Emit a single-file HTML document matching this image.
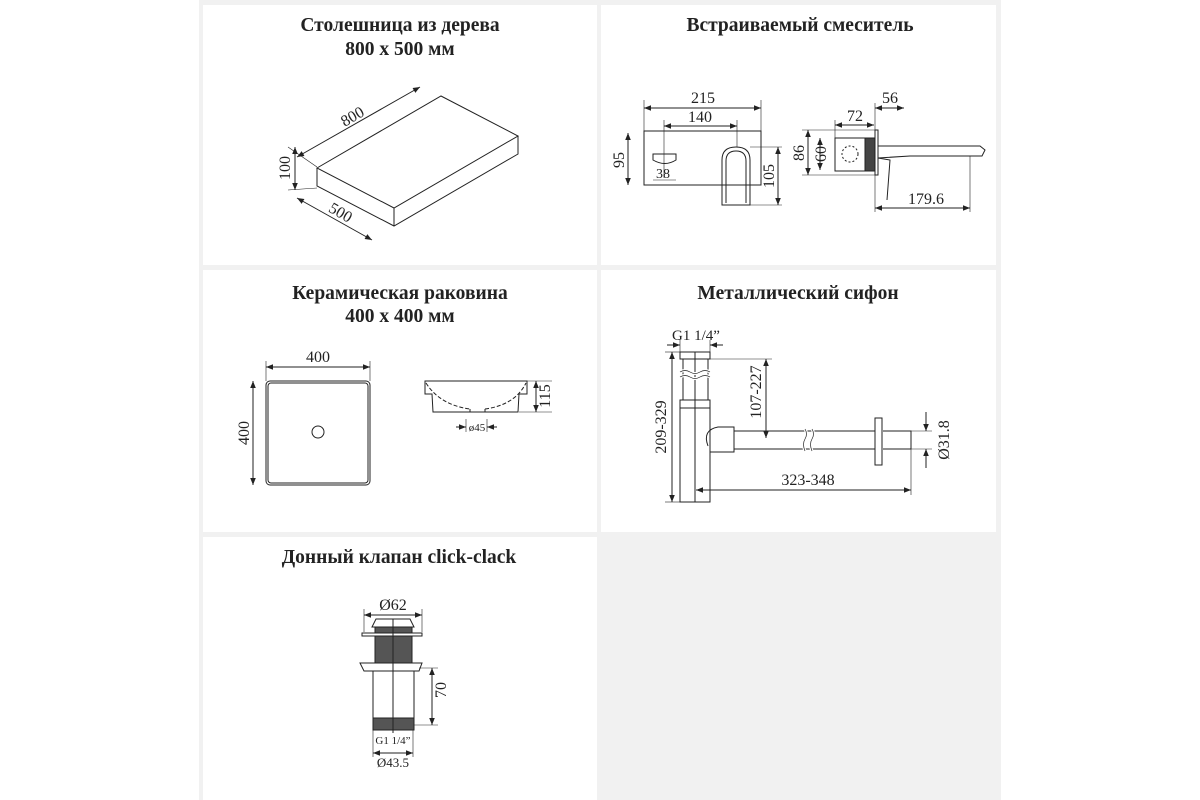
<!DOCTYPE html>
<html><head><meta charset="utf-8"><style>
html,body{margin:0;padding:0;background:#fff}
svg{display:block}
text{font-family:"Liberation Serif","DejaVu Serif",serif;fill:#222}
.t{font-weight:bold;font-size:19.5px;text-anchor:middle}
.d{font-size:16px;text-anchor:middle}
</style></head><body>
<svg width="1200" height="800" viewBox="0 0 1200 800" xmlns="http://www.w3.org/2000/svg">
<defs>
<marker id="a" viewBox="0 0 10 10" refX="10" refY="5" markerWidth="7" markerHeight="7" orient="auto-start-reverse"><path d="M0,1 L10,5 L0,9 z" fill="#222"/></marker>
</defs>
<rect x="199" y="0" width="802" height="800" fill="#f1f1f1"/>
<rect x="203" y="5" width="394" height="260" fill="#fff"/>
<rect x="601" y="5" width="395" height="260" fill="#fff"/>
<rect x="203" y="270" width="394" height="262" fill="#fff"/>
<rect x="601" y="270" width="395" height="262" fill="#fff"/>
<rect x="203" y="537" width="394" height="263" fill="#fff"/>

<g stroke="#222" fill="none" stroke-width="1">
<path d="M317,168 L441,96 L518,136 L394,208 Z"/>
<path d="M317,168 L317,186 L394,226 L518,154 L518,136"/>
<path d="M394,208 L394,226"/>
<line x1="297" y1="157" x2="420" y2="87" marker-start="url(#a)" marker-end="url(#a)"/>
<line x1="295" y1="147" x2="295" y2="190" marker-start="url(#a)" marker-end="url(#a)"/>
<line x1="297" y1="198" x2="372" y2="240" marker-start="url(#a)" marker-end="url(#a)"/>
<line x1="288" y1="147" x2="317" y2="167" stroke-width=".6"/>
<line x1="288" y1="190" x2="317" y2="188" stroke-width=".6"/>

<rect x="644" y="131" width="117" height="54"/>
<line x1="644" y1="108" x2="761" y2="108" marker-start="url(#a)" marker-end="url(#a)"/>
<line x1="644" y1="100" x2="644" y2="131" stroke-width=".6"/>
<line x1="761" y1="100" x2="761" y2="131" stroke-width=".6"/>
<line x1="664" y1="126" x2="737" y2="126" marker-start="url(#a)" marker-end="url(#a)"/>
<line x1="664" y1="120" x2="664" y2="178" stroke-width=".6"/>
<line x1="737" y1="120" x2="737" y2="147" stroke-width=".6"/>
<line x1="628" y1="133" x2="628" y2="185" marker-start="url(#a)" marker-end="url(#a)"/>
<path d="M722,205 L722,160 Q722,147 736,147 Q750,147 750,160 L750,205 Z"/>
<path d="M726,203 L726,161 Q726,151 736,151 Q746,151 746,161 L746,203"/>
<line x1="778" y1="147" x2="778" y2="205" marker-start="url(#a)" marker-end="url(#a)"/>
<line x1="750" y1="147" x2="782" y2="147" stroke-width=".6"/>
<line x1="750" y1="205" x2="782" y2="205" stroke-width=".6"/>
<path d="M653,154 L676,154 L676,160 Q665,167 653,160 Z"/>
<line x1="653" y1="180" x2="676" y2="180" stroke-width=".6"/>
<rect x="835" y="138" width="30" height="33"/>
<rect x="865" y="138" width="10" height="33" fill="#444"/>
<circle cx="850" cy="154" r="8" stroke-dasharray="2 2"/>
<rect x="875" y="130" width="3" height="45"/>
<path d="M878,146 L980,146 L985,150 L982,156 L910,156 L878,158"/>
<path d="M878,158 L890,160 L887,200"/>
<line x1="808" y1="130" x2="808" y2="175" marker-start="url(#a)" marker-end="url(#a)"/>
<line x1="820" y1="138" x2="820" y2="170" marker-start="url(#a)" marker-end="url(#a)"/>
<line x1="835" y1="125" x2="874" y2="125" marker-start="url(#a)" marker-end="url(#a)"/>
<line x1="875" y1="108" x2="904" y2="108" marker-start="url(#a)" marker-end="url(#a)"/>
<line x1="875" y1="208" x2="970" y2="208" marker-start="url(#a)" marker-end="url(#a)"/>
<line x1="835" y1="120" x2="835" y2="138" stroke-width=".6"/>
<line x1="875" y1="103" x2="875" y2="212" stroke-width=".6"/>
<line x1="970" y1="156" x2="970" y2="212" stroke-width=".6"/>
<line x1="802" y1="130" x2="875" y2="130" stroke-width=".6"/>
<line x1="802" y1="175" x2="875" y2="175" stroke-width=".6"/>

<rect x="266" y="381" width="104" height="104" rx="4"/>
<rect x="268" y="383" width="100" height="100" rx="3"/>
<circle cx="318" cy="432" r="6"/>
<line x1="266" y1="367" x2="370" y2="367" marker-start="url(#a)" marker-end="url(#a)"/>
<line x1="266" y1="361" x2="266" y2="381" stroke-width=".6"/>
<line x1="370" y1="361" x2="370" y2="381" stroke-width=".6"/>
<line x1="253" y1="381" x2="253" y2="485" marker-start="url(#a)" marker-end="url(#a)"/>
<path d="M425,381 L527,381 L527,394 L519,394 L518,412 L433,412 L432,394 L425,394 Z"/>
<path d="M426,383 Q440,405 470,409 M485,409 Q515,405 526,383" stroke-dasharray="4 2"/>
<path d="M470,409 L470,412 M485,409 L485,412"/>
<line x1="536" y1="381" x2="536" y2="412" marker-start="url(#a)" marker-end="url(#a)"/>
<line x1="527" y1="381" x2="552" y2="381" stroke-width=".6"/>
<line x1="519" y1="412" x2="552" y2="412" stroke-width=".6"/>
<line x1="456" y1="427" x2="466" y2="427" marker-end="url(#a)"/>
<line x1="497" y1="427" x2="487" y2="427" marker-end="url(#a)"/>
<line x1="466" y1="419" x2="466" y2="432" stroke-width=".6"/>
<line x1="487" y1="419" x2="487" y2="432" stroke-width=".6"/>

<rect x="680" y="352" width="30" height="7"/>
<path d="M683,359 L683,400 M708,359 L708,400 M695,352 L695,502"/>
<path d="M680,372 q5,-3 10,0 t10,0 t10,0 M680,377 q5,-3 10,0 t10,0 t10,0" stroke="#fff" stroke-width="3"/>
<path d="M680,372 q5,-3 10,0 t10,0 t10,0 M680,377 q5,-3 10,0 t10,0 t10,0" stroke-width=".7"/>
<rect x="680" y="400" width="30" height="8"/>
<rect x="680" y="408" width="30" height="94"/>
<path d="M708,446 Q702,430 718,427 L734,427 L734,452 L710,452"/>
<path d="M734,431 L875,431 M734,449 L875,449 M883,431 L911,431 L911,449 L883,449"/>
<path d="M805,429 q3,5 0,10 t0,12 M812,429 q3,5 0,10 t0,12" stroke="#fff" stroke-width="3"/>
<path d="M805,429 q3,5 0,10 t0,12 M812,429 q3,5 0,10 t0,12" stroke-width=".7"/>
<rect x="875" y="418" width="7" height="47"/>
<line x1="672" y1="352" x2="672" y2="502" marker-start="url(#a)" marker-end="url(#a)"/>
<line x1="665" y1="352" x2="680" y2="352" stroke-width=".6"/>
<line x1="665" y1="502" x2="680" y2="502" stroke-width=".6"/>
<line x1="766" y1="359" x2="766" y2="438" marker-start="url(#a)" marker-end="url(#a)"/>
<line x1="710" y1="359" x2="772" y2="359" stroke-width=".6"/>
<line x1="696" y1="490" x2="911" y2="490" marker-start="url(#a)" marker-end="url(#a)"/>
<line x1="911" y1="449" x2="911" y2="495" stroke-width=".6"/>
<line x1="926" y1="412" x2="926" y2="431" marker-end="url(#a)"/>
<line x1="926" y1="468" x2="926" y2="449" marker-end="url(#a)"/>
<line x1="911" y1="431" x2="932" y2="431" stroke-width=".6"/>
<line x1="911" y1="449" x2="932" y2="449" stroke-width=".6"/>
<line x1="667" y1="345" x2="680" y2="345" marker-end="url(#a)"/>
<line x1="723" y1="345" x2="710" y2="345" marker-end="url(#a)"/>
<line x1="680" y1="340" x2="680" y2="352" stroke-width=".6"/>
<line x1="710" y1="340" x2="710" y2="352" stroke-width=".6"/>

<line x1="364" y1="615" x2="422" y2="615" marker-start="url(#a)" marker-end="url(#a)"/>
<line x1="364" y1="609" x2="364" y2="632" stroke-width=".6"/>
<line x1="422" y1="609" x2="422" y2="632" stroke-width=".6"/>
<path d="M372,627 L376,619 L410,619 L414,627 Z"/>
<rect x="375" y="627" width="37" height="36" fill="#555"/>
<rect x="362" y="633" width="60" height="3" fill="#fff"/>
<path d="M360,663 L422,663 L419,671 L364,671 Z" fill="#fff"/>
<rect x="373" y="671" width="41" height="47"/>
<rect x="373" y="718" width="41" height="12" fill="#555"/>
<line x1="393" y1="619" x2="393" y2="740"/>
<line x1="432" y1="668" x2="432" y2="725" marker-start="url(#a)" marker-end="url(#a)"/>
<line x1="419" y1="668" x2="438" y2="668" stroke-width=".6"/>
<line x1="414" y1="725" x2="438" y2="725" stroke-width=".6"/>
<line x1="373" y1="753" x2="413" y2="753" marker-start="url(#a)" marker-end="url(#a)"/>
<line x1="373" y1="730" x2="373" y2="757" stroke-width=".6"/>
<line x1="413" y1="730" x2="413" y2="757" stroke-width=".6"/>
</g>
<rect x="376" y="733" width="34" height="13" fill="#fff"/>

<text class="t" x="400" y="31">Столешница из дерева</text>
<text class="t" x="400" y="55">800 x 500 мм</text>
<text class="t" x="800" y="31">Встраиваемый смеситель</text>
<text class="t" x="400" y="299">Керамическая раковина</text>
<text class="t" x="400" y="322">400 x 400 мм</text>
<text class="t" x="798" y="299">Металлический сифон</text>
<text class="t" x="399" y="563">Донный клапан click-clack</text>

<text class="d" x="355" y="121" transform="rotate(-30 355 121)">800</text>
<text class="d" x="290" y="168" transform="rotate(-90 290 168)">100</text>
<text class="d" x="338" y="217" transform="rotate(30 338 217)">500</text>
<text class="d" x="703" y="103">215</text>
<text class="d" x="700" y="122">140</text>
<text class="d" x="624" y="160" transform="rotate(-90 624 160)">95</text>
<text class="d" x="663" y="178" style="font-size:14px">38</text>
<text class="d" x="774" y="176" transform="rotate(-90 774 176)">105</text>
<text class="d" x="804" y="153" transform="rotate(-90 804 153)">86</text>
<text class="d" x="826" y="154" transform="rotate(-90 826 154)">60</text>
<text class="d" x="855" y="121">72</text>
<text class="d" x="890" y="103">56</text>
<text class="d" x="926" y="204">179.6</text>
<text class="d" x="318" y="362">400</text>
<text class="d" x="249" y="433" transform="rotate(-90 249 433)">400</text>
<text class="d" x="550" y="396" transform="rotate(-90 550 396)">115</text>
<text class="d" x="477" y="431" style="font-size:11px">ø45</text>
<text class="d" x="696" y="340" style="font-size:15px">G1 1/4”</text>
<text class="d" x="666" y="427" transform="rotate(-90 666 427)">209-329</text>
<text class="d" x="761" y="392" transform="rotate(-90 761 392)">107-227</text>
<text class="d" x="808" y="485">323-348</text>
<text class="d" x="949" y="440" transform="rotate(-90 949 440)">Ø31.8</text>
<text class="d" x="393" y="610">Ø62</text>
<text class="d" x="446" y="690" transform="rotate(-90 446 690)">70</text>
<text class="d" x="393" y="744" style="font-size:11px">G1 1/4”</text>
<text class="d" x="393" y="767" style="font-size:13px">Ø43.5</text>
</svg>
</body></html>
